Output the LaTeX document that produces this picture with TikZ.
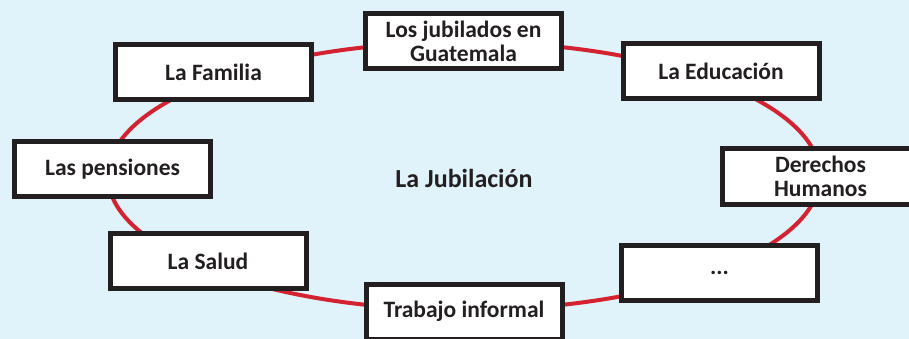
\documentclass[tikz,border=0pt]{standalone}
\usepackage{fontspec}
\setmainfont{Carlito}
\definecolor{bgblue}{HTML}{E0F2FA}
\definecolor{ringred}{HTML}{D42330}
\definecolor{boxblack}{HTML}{231F20}
\begin{document}
\begin{tikzpicture}[x=1pt,y=-1pt,
  topic/.style={draw=boxblack,line width=5pt,fill=white,minimum width=196pt,minimum height=55pt,
    inner sep=0pt,align=center,font=\fontsize{23.5}{23.5}\selectfont\bfseries,text=boxblack}]
\fill[bgblue] (0,0) rectangle (909,339);
\useasboundingbox (0,0) rectangle (909,339);
\coordinate (c) at (464,176);
\draw[ringred,line width=4pt] (c) ellipse [x radius=356, y radius=134];
\node[topic] (fam) at (213.5,72) {La Familia};
\node[topic] (jub) at (463.5,41.5) {Los jubilados en\\Guatemala};
\node[topic] (edu) at (721,71.5) {La Educación};
\node[topic] (der) at (820.5,176.5) {Derechos\\Humanos};
\node[topic] (etc) at (719.5,273) {...};
\node[topic] (pen) at (112.5,169) {Las pensiones};
\node[topic] (sal) at (208,261) {La Salud};
\node[topic] (tra) at (464,311.5) {Trabajo informal};
\node[font=\fontsize{26}{26}\selectfont\bfseries,text=boxblack] (main) at (464,178) {La Jubilación};
\end{tikzpicture}
\end{document}
